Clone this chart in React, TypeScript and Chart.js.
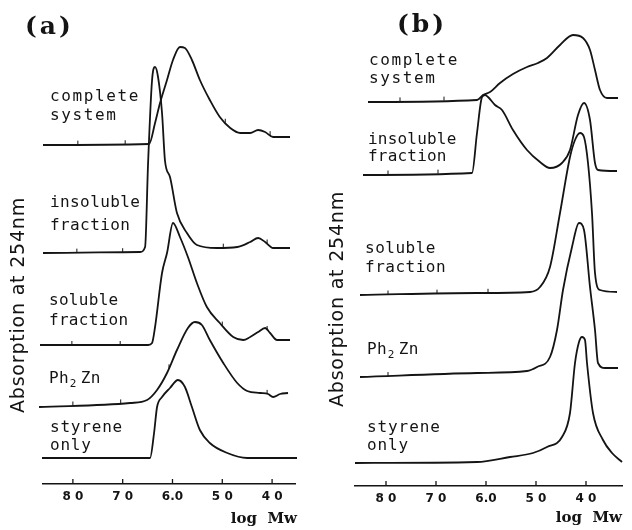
import React, { useEffect, useRef } from 'react';
import { Chart, registerables } from 'chart.js';
Chart.register(...registerables);

// ---- shared axis ----
const tickValues = [8, 7, 6, 5, 4];
const tickLabels = ['8 0', '7 0', '6.0', '5 0', '4 0'];
const xTitle = 'log  Mw';
const yTitle = 'Absorption at 254nm';

// ---- panel (a) data: log Mw vs absorbance above each trace's baseline ----
const aOffsets = [3.39, 2.31, 1.39, 0.79, 0.26];
const aCompleteX = [8.60, 6.47, 6.35, 6.25, 6.11, 5.99, 5.85, 5.75, 5.61, 5.45, 5.25, 5.05, 4.84, 4.64, 4.44, 4.28, 4.14, 3.98, 3.64];
const aCompleteY = [0, 0.01, 0.22, 0.42, 0.65, 0.85, 0.98, 0.97, 0.85, 0.65, 0.45, 0.28, 0.17, 0.12, 0.12, 0.15, 0.13, 0.08, 0.08];
const aInsolX = [8.60, 6.65, 6.55, 6.49, 6.41, 6.35, 6.29, 6.21, 6.15, 6.05, 5.91, 5.71, 5.51, 5.11, 4.70, 4.44, 4.28, 4.14, 3.98, 3.64];
const aInsolY = [0, 0.01, 0.06, 0.90, 1.73, 1.86, 1.76, 1.40, 0.92, 0.76, 0.40, 0.20, 0.08, 0.05, 0.06, 0.11, 0.15, 0.11, 0.05, 0.05];
const aSolX = [8.66, 6.49, 6.41, 6.35, 6.21, 6.11, 5.99, 5.85, 5.69, 5.51, 5.31, 5.05, 4.78, 4.58, 4.44, 4.28, 4.14, 4.04, 3.90, 3.64];
const aSolY = [0, 0, 0.02, 0.18, 0.72, 0.92, 1.22, 1.08, 0.88, 0.62, 0.38, 0.22, 0.08, 0.05, 0.08, 0.13, 0.17, 0.12, 0.05, 0.05];
const aPhX = [8.68, 6.85, 6.51, 6.31, 6.11, 5.91, 5.69, 5.55, 5.41, 5.25, 4.98, 4.70, 4.50, 4.24, 4.08, 3.98, 3.84, 3.68];
const aPhY = [-0.02, 0.02, 0.05, 0.15, 0.32, 0.55, 0.77, 0.83, 0.80, 0.65, 0.42, 0.22, 0.14, 0.12, 0.11, 0.08, 0.11, 0.12];
const aStyX = [8.62, 6.45, 6.37, 6.31, 6.21, 6.05, 5.89, 5.75, 5.61, 5.45, 5.25, 4.90, 4.50, 3.50];
const aStyY = [0, 0, 0.25, 0.51, 0.61, 0.70, 0.78, 0.71, 0.51, 0.28, 0.15, 0.05, 0, 0];
// small recorder marks on each trace (log Mw)
const aMarks = [[7.90, 6.95, 4.94, 4.04], [7.92, 7.0, 4.98, 4.10], [8.02, 7.05, 5.0, 4.10], [8.0, 7.04, 6.07, 4.10], []];

// ---- panel (b) data ----
const bOffsets = [3.84, 3.11, 1.93, 1.13, 0.23];
const bCompleteX = [8.36, 6.18, 6.06, 5.92, 5.72, 5.46, 5.18, 4.96, 4.78, 4.52, 4.26, 4.06, 3.92, 3.82, 3.72, 3.58, 3.36];
const bCompleteY = [0, 0.02, 0.07, 0.10, 0.19, 0.28, 0.35, 0.39, 0.44, 0.57, 0.67, 0.64, 0.52, 0.32, 0.12, 0.04, 0.04];
const bInsolX = [8.46, 6.28, 6.18, 6.08, 6.02, 5.96, 5.82, 5.68, 5.46, 5.18, 4.92, 4.72, 4.48, 4.32, 4.16, 4.04, 3.92, 3.82, 3.76, 3.38];
const bInsolY = [0, 0.02, 0.42, 0.78, 0.80, 0.78, 0.70, 0.65, 0.45, 0.25, 0.13, 0.07, 0.12, 0.25, 0.60, 0.72, 0.55, 0.12, 0.05, 0.04];
const bSolX = [8.52, 6.18, 5.12, 4.92, 4.72, 4.52, 4.32, 4.22, 4.12, 4.04, 3.96, 3.88, 3.82, 3.72, 3.38];
const bSolY = [-0.02, 0, 0.01, 0.06, 0.26, 0.80, 1.36, 1.53, 1.60, 1.56, 1.30, 0.80, 0.20, 0.03, 0.01];
const bPhX = [8.52, 6.18, 5.18, 4.98, 4.72, 4.58, 4.46, 4.28, 4.14, 4.04, 3.92, 3.82, 3.76, 3.62, 3.36];
const bPhY = [-0.04, 0, 0.02, 0.06, 0.16, 0.43, 0.83, 1.26, 1.50, 1.43, 0.86, 0.43, 0.10, 0.05, 0.05];
const bStyX = [8.62, 6.18, 5.52, 5.06, 4.78, 4.48, 4.32, 4.22, 4.14, 4.08, 4.02, 3.98, 3.86, 3.66, 3.48, 3.28];
const bStyY = [0, 0.01, 0.06, 0.10, 0.16, 0.26, 0.50, 1.00, 1.21, 1.26, 1.23, 1.00, 0.50, 0.23, 0.10, 0.01];
const bMarks = [[7.72, 6.84], [7.96, 6.96], [7.96, 6.98, 5.96], [7.96], []];

const traceNames = [
  ['complete', 'system'],
  ['insoluble', 'fraction'],
  ['soluble', 'fraction'],
  ['Ph₂Zn'],
  ['styrene', 'only'],
];

// ---- layout (positions / styles) ----
type LabelPos = { x: number; y: number; gap: number; spacing: number };
const panelA = {
  letter: '(a)', letterX: 25, letterY: 34,
  xMin: 3.54, xMax: 8.60,
  pad: { left: 43, right: 21, top: 34 }, axisHeight: 46,
  xTitleBaseline: 523, xTitleRightPad: 2,
  yTitleX: 19, yTitleY: 305,
  series: [[aCompleteX, aCompleteY], [aInsolX, aInsolY], [aSolX, aSolY], [aPhX, aPhY], [aStyX, aStyY]],
  offsets: aOffsets,
  marks: aMarks,
  labels: [
    { x: 50, y: 101, gap: 19, spacing: 1.6 },
    { x: 50, y: 207, gap: 23, spacing: 0.4 },
    { x: 49, y: 305, gap: 20, spacing: 0.3 },
    { x: 49, y: 383, gap: 0, spacing: 0.3 },
    { x: 50, y: 432, gap: 18, spacing: 0.8 },
  ] as LabelPos[],
};
const panelB = {
  letter: '(b)', letterX: 81, letterY: 32,
  xMin: 3.28, xMax: 8.62,
  pad: { left: 39, right: 10, top: 36 }, axisHeight: 44,
  xTitleBaseline: 522, xTitleRightPad: 0,
  yTitleX: 22, yTitleY: 299,
  series: [[bCompleteX, bCompleteY], [bInsolX, bInsolY], [bSolX, bSolY], [bPhX, bPhY], [bStyX, bStyY]],
  offsets: bOffsets,
  marks: bMarks,
  labels: [
    { x: 53, y: 65, gap: 18, spacing: 1.6 },
    { x: 52, y: 144, gap: 17, spacing: 0.2 },
    { x: 49, y: 253, gap: 19, spacing: 0.5 },
    { x: 51, y: 354, gap: 0, spacing: 0.3 },
    { x: 51, y: 432, gap: 18, spacing: 0.9 },
  ] as LabelPos[],
};

const INK = '#141414';
const LABEL_FONT = '"DejaVu Sans Mono", monospace';

function drawRich(ctx: CanvasRenderingContext2D, text: string, x: number, y: number) {
  if (text.indexOf('₂') < 0) {
    ctx.fillText(text, x, y);
    return;
  }
  const parts = text.split('₂');
  ctx.fillText(parts[0], x, y);
  let cx = x + ctx.measureText(parts[0]).width + 1;
  const saved = ctx.font;
  ctx.font = `11px ${LABEL_FONT}`;
  ctx.fillText('2', cx, y + 4);
  cx += ctx.measureText('2').width + 4;
  ctx.font = saved;
  ctx.fillText(parts[1], cx, y);
}

// value of a trace at a given log Mw (x values are in descending order)
function traceAt(xs: number[], ys: number[], v: number): number {
  for (let i = 0; i < xs.length - 1; i++) {
    if (xs[i] >= v && v >= xs[i + 1]) {
      const t = (xs[i] - v) / (xs[i] - xs[i + 1]);
      return ys[i] + t * (ys[i + 1] - ys[i]);
    }
  }
  return ys[ys.length - 1];
}

const panelTextPlugin = {
  id: 'panelText',
  afterDraw(chart: any, _args: any, opts: any) {
    const ctx: CanvasRenderingContext2D = chart.ctx;
    const p = opts.panel;
    const area = chart.chartArea;
    const xs = chart.scales.x;
    const ys = chart.scales.y;
    ctx.save();
    ctx.fillStyle = INK;
    ctx.textAlign = 'left';
    ctx.textBaseline = 'alphabetic';
    (ctx as any).letterSpacing = '3px';
    ctx.font = 'bold 25px "DejaVu Serif", serif';
    ctx.fillText(p.letter, p.letterX, p.letterY);

    ctx.font = `16px ${LABEL_FONT}`;
    p.labels.forEach((l: LabelPos, i: number) => {
      (ctx as any).letterSpacing = `${l.spacing}px`;
      traceNames[i].forEach((t, j) => drawRich(ctx, t, l.x, l.y + j * l.gap));
    });

    // x axis title, right-aligned to the axis end
    (ctx as any).letterSpacing = '0px';
    ctx.textAlign = 'right';
    ctx.font = 'bold 15px "DejaVu Serif", serif';
    ctx.fillText(xTitle, area.right + p.xTitleRightPad, p.xTitleBaseline);

    ctx.save();
    ctx.translate(p.yTitleX, p.yTitleY);
    ctx.rotate(-Math.PI / 2);
    ctx.textAlign = 'center';
    ctx.textBaseline = 'middle';
    (ctx as any).letterSpacing = '0.8px';
    ctx.font = '19px "DejaVu Sans", sans-serif';
    ctx.fillText(yTitle, 0, 0);
    ctx.restore();

    ctx.strokeStyle = INK;
    // inward tick marks on the x axis
    ctx.lineWidth = 1.3;
    tickValues.forEach((v) => {
      const px = xs.getPixelForValue(v);
      ctx.beginPath();
      ctx.moveTo(px, area.bottom);
      ctx.lineTo(px, area.bottom - 5);
      ctx.stroke();
    });
    // small recorder marks along the traces
    ctx.lineWidth = 1;
    p.series.forEach(([sx, sy]: number[][], k: number) => {
      p.marks[k].forEach((v: number) => {
        const px = xs.getPixelForValue(v);
        const py = ys.getPixelForValue(p.offsets[k] + traceAt(sx, sy, v));
        ctx.beginPath();
        ctx.moveTo(px, py);
        ctx.lineTo(px, py - 4);
        ctx.stroke();
      });
    });
    ctx.restore();
  },
};

function makeConfig(p: typeof panelA): any {
  return {
    type: 'line',
    data: {
      datasets: p.series.map(([sx, sy], k) => ({
        label: traceNames[k].join(' '),
        data: sx.map((v, i) => ({ x: v, y: p.offsets[k] + sy[i] })),
        borderColor: INK,
        borderWidth: 1.8,
        pointRadius: 0,
        cubicInterpolationMode: 'monotone',
        clip: false,
        fill: false,
      })),
    },
    options: {
      animation: false,
      responsive: false,
      events: [],
      layout: { padding: { left: p.pad.left, right: p.pad.right, top: p.pad.top, bottom: 0 } },
      plugins: {
        legend: { display: false },
        tooltip: { enabled: false },
        panelText: { panel: p },
      },
      scales: {
        x: {
          type: 'linear',
          reverse: true,
          min: p.xMin,
          max: p.xMax,
          afterBuildTicks: (s: any) => {
            s.ticks = tickValues.map((v) => ({ value: v }));
          },
          afterFit: (s: any) => {
            s.height = p.axisHeight;
          },
          grid: { display: false },
          border: { display: true, color: INK, width: 1.5 },
          ticks: {
            callback: (v: number) => tickLabels[tickValues.indexOf(v)] ?? '',
            font: { family: 'DejaVu Sans', size: 12, weight: 'bold' },
            color: INK,
            padding: -2,
            maxRotation: 0,
            autoSkip: false,
          },
          title: { display: false },
        },
        y: { display: false, min: 0, max: 4.5 },
      },
    },
    plugins: [panelTextPlugin],
  };
}

export default function App() {
  const refA = useRef<HTMLCanvasElement>(null);
  const refB = useRef<HTMLCanvasElement>(null);
  useEffect(() => {
    const ca = new Chart(refA.current as HTMLCanvasElement, makeConfig(panelA));
    const cb = new Chart(refB.current as HTMLCanvasElement, makeConfig(panelB));
    return () => {
      ca.destroy();
      cb.destroy();
    };
  }, []);
  return (
    <div style={{ position: 'absolute', left: 0, top: 0, width: 632, height: 530, background: '#fff' }}>
      <canvas ref={refA} width={316} height={530} style={{ position: 'absolute', left: 0, top: 0 }} />
      <canvas ref={refB} width={316} height={530} style={{ position: 'absolute', left: 316, top: 0 }} />
    </div>
  );
}
